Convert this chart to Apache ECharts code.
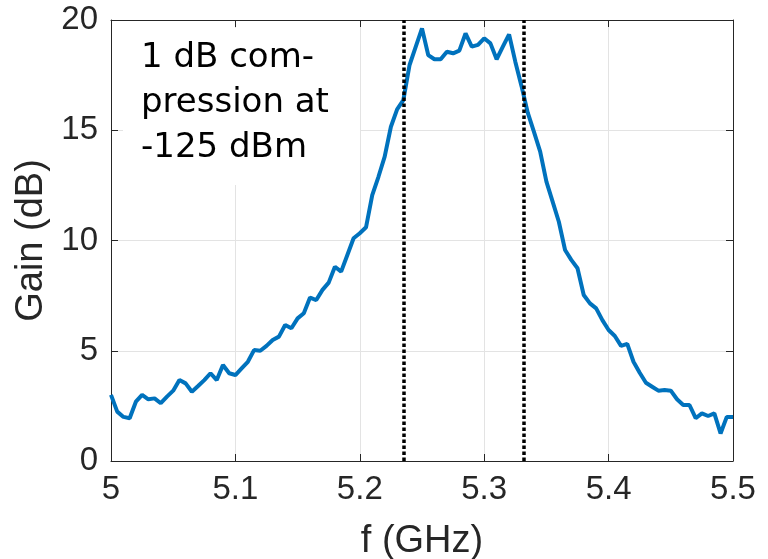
<!DOCTYPE html>
<html>
<head>
<meta charset="utf-8">
<script src="https://cdn.jsdelivr.net/npm/echarts@6/dist/echarts.min.js"></script>
<style>
  html, body { margin: 0; padding: 0; background: #fff; }
  #chart { width: 768px; height: 559px; }
</style>
</head>
<body>
<div id="chart"></div>
<script>
// frequency sampling (GHz)
const freqStart = 5.0
const freqStep = 0.005

// measured gain (dB), one value per frequency step
const gain = [
  3.0, 2.24, 2.0, 1.94, 2.69, 3.0, 2.8, 2.84, 2.62, 2.92,
  3.19, 3.67, 3.52, 3.14, 3.4, 3.67, 3.98, 3.67, 4.35, 3.98,
  3.9, 4.2, 4.5, 5.03, 5.0, 5.22, 5.49, 5.64, 6.17, 6.02,
  6.47, 6.7, 7.41, 7.3, 7.76, 8.09, 8.81, 8.59, 9.34, 10.1,
  10.33, 10.6, 12.06, 12.89, 13.8, 15.16, 15.95, 16.37, 17.96, 18.79,
  19.62, 18.41, 18.22, 18.22, 18.56, 18.49, 18.61, 19.39, 18.79, 18.87,
  19.17, 18.94, 18.22, 18.79, 19.35, 18.11, 17.0, 15.8, 14.93, 14.03,
  12.67, 11.76, 10.85, 9.57, 9.12, 8.74, 7.53, 7.15, 6.92, 6.39,
  5.94, 5.67, 5.22, 5.31, 4.5, 4.0, 3.55, 3.37, 3.19, 3.22,
  3.19, 2.8, 2.54, 2.54, 1.94, 2.16, 2.04, 2.16, 1.25, 2.0,
  2.0
]

// band edges (dotted lines)
const bandEdges = [5.235, 5.332]

const annotation = ["1 dB com-", "pression at", "-125 dBm"]

const axisColor = "#262626"
const tickFont = "'Liberation Sans Narrow', 'Liberation Sans', sans-serif"

const chart = echarts.init(document.getElementById("chart"))

const seriesData = gain.map((g, i) => [+(freqStart + i * freqStep).toFixed(3), g])

const baseX = {
  type: "value",
  min: 5,
  max: 5.5,
  interval: 0.1,
  axisLine: { show: true, onZero: false, lineStyle: { color: axisColor, width: 1 } },
  axisTick: { show: true, inside: true, length: 7, lineStyle: { color: axisColor } },
}
const baseY = {
  type: "value",
  min: 0,
  max: 20,
  interval: 5,
  axisLine: { show: true, onZero: false, lineStyle: { color: axisColor, width: 1 } },
  axisTick: { show: true, inside: true, length: 7, lineStyle: { color: axisColor } },
}

const option = {
  animation: false,
  backgroundColor: "#fff",
  grid: {
    left: 111,
    right: 35,
    top: 20,
    bottom: 98,
    containLabel: false,
    outerBoundsMode: "none",
  },
  xAxis: [
    {
      ...baseX,
      position: "bottom",
      name: "f (GHz)",
      nameLocation: "middle",
      nameGap: 62,
      nameTextStyle: { color: axisColor, fontFamily: tickFont, fontSize: 38 },
      axisLabel: {
        color: axisColor,
        fontFamily: tickFont,
        fontSize: 33,
        margin: 12,
        formatter: (v) => String(+v.toFixed(1)),
      },
      splitLine: { show: true, lineStyle: { color: "#e3e3e3", width: 1 } },
    },
    {
      ...baseX,
      position: "top",
      axisLabel: { show: false },
      splitLine: { show: false },
    },
  ],
  yAxis: [
    {
      ...baseY,
      position: "left",
      name: "Gain (dB)",
      nameLocation: "middle",
      nameGap: 56,
      nameTextStyle: { color: axisColor, fontFamily: tickFont, fontSize: 38 },
      axisLabel: {
        color: axisColor,
        fontFamily: tickFont,
        fontSize: 33,
        margin: 13,
      },
      splitLine: { show: true, lineStyle: { color: "#e3e3e3", width: 1 } },
    },
    {
      ...baseY,
      position: "right",
      axisLabel: { show: false },
      splitLine: { show: false },
    },
  ],
  graphic: [
    {
      type: "rect",
      left: 123,
      top: 28,
      z: 5,
      shape: { width: 237, height: 157 },
      style: { fill: "#fff" },
    },
    {
      type: "text",
      left: 141,
      top: 36,
      z: 6,
      style: {
        text: annotation.join("\n"),
        fill: "#000",
        font: "34px 'DejaVu Sans', sans-serif",
        lineHeight: 45,
      },
    },
  ],
  series: [
    {
      name: "Gain",
      type: "line",
      data: seriesData,
      showSymbol: false,
      z: 3,
      lineStyle: { color: "#0072BD", width: 4 },
      markLine: {
        silent: true,
        symbol: "none",
        precision: 3,
        label: { show: false },
        lineStyle: { color: "#000", width: 3.5, type: [3.5, 2.5] },
        data: bandEdges.map((f) => ({ xAxis: f })),
      },
    },
  ],
}

chart.setOption(option)
</script>
</body>
</html>
